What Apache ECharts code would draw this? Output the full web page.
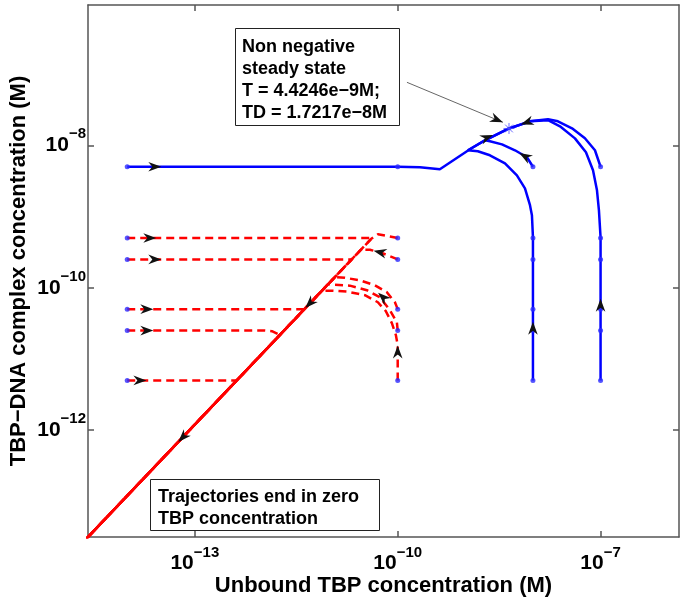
<!DOCTYPE html>
<html><head><meta charset="utf-8">
<script src="https://cdn.jsdelivr.net/npm/echarts@6/dist/echarts.min.js"></script>
<style>html,body{margin:0;padding:0;background:#fff}#c{width:685px;height:601px}</style>
</head><body><div id="c"></div>
<script>
// ---------- data (concentrations in M) ----------
const xTicks = [1e-13, 1e-10, 1e-7];
const yTicks = [1e-12, 1e-10, 1e-8];
const xRange = [2.63e-15, 1.445e-6];
const yRange = [3.16e-14, 9.33e-7];

const startT  = [1e-14, 1e-10, 1e-8, 1e-7];
const startTD = [5e-9, 5e-10, 2.5e-10, 5e-11, 2.5e-11, 5e-12];
const steadyState = [4.4246e-9, 1.7217e-8];

const blueMain = [[1e-14,5e-9],[1e-10,5e-9],[2.13e-10,4.9e-9],[4.2e-10,4.6e-9],[1.17e-9,8.8e-9],[1.95e-9,1.175e-8],[4.4246e-9,1.7217e-8]];
const blueMidLong = [[1e-8,5e-12],[1e-8,5.1e-10],[9.66e-9,1.04e-9],[9.04e-9,1.44e-9],[7.62e-9,2.49e-9],[5.79e-9,3.79e-9],[3.86e-9,5.58e-9],[2.31e-9,7.24e-9],[1.53e-9,8.24e-9],[1.09e-9,8.51e-9],[1.95e-9,1.175e-8],[4.4246e-9,1.7217e-8]];
const blueMidShort = [[1e-8,5e-9],[8.15e-9,6.79e-9],[5.42e-9,8.51e-9],[3.48e-9,1.03e-8],[2.31e-9,1.14e-8],[1.95e-9,1.175e-8]];
const blueRightShort = [[1e-7,5e-9],[8.26e-8,8.51e-9],[5.87e-8,1.253e-8],[3.78e-8,1.73e-8],[2.34e-8,2.17e-8],[1.67e-8,2.32e-8],[9.04e-9,2.17e-8],[4.4246e-9,1.7217e-8]];
const blueRightLong = [[1e-7,5e-12],[1e-7,5.1e-10],[9.46e-8,1.22e-9],[8.85e-8,2.33e-9],[7.73e-8,4.46e-9],[6.08e-8,7.98e-9],[4.18e-8,1.25e-8],[2.51e-8,1.85e-8],[1.67e-8,2.25e-8],[9.04e-9,2.17e-8],[4.4246e-9,1.7217e-8]];

const redL1 = [[1e-14,5e-10],[4.2e-11,5e-10],[1e-15,1.2e-14]];
const redL2 = [[1e-14,2.5e-10],[2.08e-11,2.5e-10],[1e-15,1.2e-14]];
const redL3 = [[1e-14,5e-11],[4.16e-12,5e-11],[1e-15,1.2e-14]];
const redL4 = [[1e-14,2.5e-11],[1.09e-12,2.5e-11],[1.38e-12,2.45e-11],[1.81e-12,2.17e-11],[1e-15,1.2e-14]];
const redL5 = [[1e-14,5e-12],[4.16e-13,5e-12],[1e-15,1.2e-14]];
const redR1 = [[1e-10,5e-10],[5.09e-11,5.64e-10],[4.02e-11,4.82e-10],[1e-15,1.2e-14]];
const redR2 = [[1e-10,2.5e-10],[7.67e-11,2.77e-10],[5.46e-11,3.15e-10],[3.88e-11,3.41e-10],[2.86e-11,3.43e-10],[1e-15,1.2e-14]];
const redR3 = [[1e-10,5e-11],[9.1e-11,6.25e-11],[6.92e-11,8.65e-11],[4.6e-11,1.08e-10],[2.76e-11,1.27e-10],[1.66e-11,1.38e-10],[1.18e-11,1.41e-10],[1e-15,1.2e-14]];
const redR4 = [[1e-10,2.5e-11],[9.72e-11,3.28e-11],[7.67e-11,4.83e-11],[5.46e-11,7.36e-11],[3.5e-11,9.23e-11],[1.96e-11,1.07e-10],[9.3e-12,1.12e-10],[1e-15,1.2e-14]];
const redR5 = [[1e-10,5e-12],[1e-10,1.56e-11],[9.4e-11,2.16e-11],[8.2e-11,3.18e-11],[6.68e-11,4.68e-11],[5.09e-11,6.25e-11],[3.27e-11,7.85e-11],[1.83e-11,8.79e-11],[1.1e-11,9.08e-11],[7.55e-12,9.06e-11],[1e-15,1.2e-14]];

const annotationLine = [[1.37e-10,7.66e-8],[3.6e-9,2.1e-8]];

// arrows: [position, a point further along the trajectory]
const arrows = [
  [[2.56e-14,5e-9],[1e-13,5e-9]],
  [[2.09e-9,1.29e-8],[4.4246e-9,1.7217e-8]],
  [[8.15e-9,2.1e-8],[4.4246e-9,1.7217e-8]],
  [[7.62e-9,7.01e-9],[5.42e-9,8.51e-9]],
  [[1e-7,5.68e-11],[1e-7,5e-10]],
  [[1e-8,2.7e-11],[1e-8,5e-10]],
  [[2.16e-14,5e-10],[1e-12,5e-10]],
  [[2.56e-14,2.5e-10],[1e-12,2.5e-10]],
  [[1.95e-14,5e-11],[1e-12,5e-11]],
  [[1.95e-14,2.5e-11],[1e-12,2.5e-11]],
  [[1.54e-14,5e-12],[1e-12,5e-12]],
  [[5.02e-12,6.03e-11],[1e-15,1.2e-14]],
  [[6.64e-14,7.97e-13],[1e-15,1.2e-14]],
  [[6.04e-11,7.36e-11],[3.88e-11,1.08e-10]],
  [[5.46e-11,3.15e-10],[3.88e-11,3.41e-10]],
  [[1e-10,1.25e-11],[1e-10,2.5e-11]],
  [[2.93e-9,2.28e-8],[3.6e-9,2.1e-8]]
];

const textSteady = ['Non negative', 'steady state', 'T = 4.4246e\u22129M;', 'TD = 1.7217e\u22128M'];
const textZero = ['Trajectories end in zero', 'TBP concentration'];
const xName = 'Unbound TBP concentration (M)';
const yName = 'TBP\u2212DNA complex concentration (M)';

// ---------- helpers ----------
const lg = v => Math.log10(v);
const toLog = p => [lg(p[0]), lg(p[1])];
const L = arr => arr.map(toLog);
const FONT = '"Liberation Sans", Arial, Helvetica, sans-serif';
const AX = '#555';

const tickLabel = {
  formatter: v => '{b|10}{s|\u2212' + Math.abs(Math.round(v)) + '}',
  rich: {
    b: {fontSize: 21, fontWeight: 'bold', fontFamily: FONT, color: '#000'},
    s: {fontSize: 15, fontWeight: 'bold', fontFamily: FONT, color: '#000', padding: [0, 0, 22, 0]}
  }
};

function makeAxis(dim, pos, ticks, range, withLabels, name, gap) {
  const tv = ticks.map(lg);
  const ax = {
    type: 'value', position: pos,
    min: lg(range[0]), max: lg(range[1]),
    splitLine: {show: false},
    axisLine: {show: true, onZero: false, lineStyle: {color: AX, width: 1.5}},
    axisTick: {show: true, inside: true, length: 6, customValues: tv, lineStyle: {color: AX, width: 1.5}},
    axisLabel: withLabels ? Object.assign({show: true, customValues: tv, margin: dim === 'x' ? 8 : 2, fontSize: 21}, tickLabel) : {show: false},
    nameMoveOverlap: false
  };
  if (name) {
    ax.name = name; ax.nameLocation = 'middle'; ax.nameGap = gap;
    ax.nameTextStyle = {fontSize: 22, fontWeight: 'bold', fontFamily: FONT, color: '#000'};
  }
  return ax;
}

const redStyle = {color: '#ff0000', width: 2.5, type: [8, 5]};
const blueStyle = {color: '#0000ff', width: 2.5};
function lineSeries(data, style, z) {
  return {type: 'line', data: L(data), showSymbol: false, symbol: 'none', lineStyle: style,
          silent: true, animation: false, z: z, clip: true, xAxisIndex: 0, yAxisIndex: 0};
}

const startPoints = [];
startT.forEach(t => startTD.forEach(d => startPoints.push([t, d])));

const starPath = 'path://M5,0L5,10M0,5L10,5M1.5,1.5L8.5,8.5M8.5,1.5L1.5,8.5';

// arrowhead drawn in pixel space from the axis mapping of two points of a trajectory
function renderArrow(params, api) {
  const p1 = api.coord([api.value(0), api.value(1)]);
  const p2 = api.coord([api.value(2), api.value(3)]);
  let dx = p2[0] - p1[0], dy = p2[1] - p1[1];
  const len = Math.hypot(dx, dy) || 1;
  dx /= len; dy /= len;
  const nx = -dy, ny = dx;
  const H = 6.5, W = 4.8, N = 2.5;
  const tip = [p1[0] + dx * H, p1[1] + dy * H];
  const bx = p1[0] - dx * H, by = p1[1] - dy * H;
  const notch = [p1[0] - dx * N, p1[1] - dy * N];
  return {
    type: 'polygon',
    shape: {points: [tip, [bx + nx * W, by + ny * W], notch, [bx - nx * W, by - ny * W]]},
    style: {fill: '#111', stroke: null}
  };
}

const series = [];
[redL1, redL2, redL3, redL4, redL5, redR1, redR2, redR3, redR4, redR5].forEach(d => series.push(lineSeries(d, redStyle, 2)));
[blueMain, blueMidLong, blueMidShort, blueRightShort, blueRightLong].forEach(d => series.push(lineSeries(d, blueStyle, 3)));
series.push(lineSeries(annotationLine, {color: '#666', width: 1}, 4));
series.push({type: 'scatter', data: L(startPoints), symbol: 'circle', symbolSize: 5,
  itemStyle: {color: '#2a2aff'}, silent: true, animation: false, z: 5});
series.push({type: 'scatter', data: [toLog(steadyState)], symbol: starPath, symbolSize: 11,
  itemStyle: {color: 'rgba(0,0,0,0)', borderColor: '#4a4aff', borderWidth: 1}, silent: true, animation: false, z: 6});
series.push({type: 'custom', renderItem: renderArrow,
  data: arrows.map(a => toLog(a[0]).concat(toLog(a[1]))),
  encode: {x: [0, 2], y: [1, 3]}, silent: true, animation: false, z: 10, clip: false});

const option = {
  animation: false,
  backgroundColor: '#fff',
  grid: {left: 88, right: 6, top: 5, bottom: 64, containLabel: false, outerBoundsMode: 'none'},
  xAxis: [
    makeAxis('x', 'bottom', xTicks, xRange, true, xName, 38),
    makeAxis('x', 'top', xTicks, xRange, false)
  ],
  yAxis: [
    makeAxis('y', 'left', yTicks, yRange, true, yName, 58),
    makeAxis('y', 'right', yTicks, yRange, false)
  ],
  series: series,
  graphic: [
    {type: 'rect', shape: {x: 235.5, y: 28.5, width: 164, height: 97}, style: {fill: '#fff', stroke: '#222', lineWidth: 1}, z: 100},
    {type: 'text', x: 242, y: 36, style: {text: textSteady.join('\n'), fontSize: 18, fontWeight: 'bold', fontFamily: FONT, lineHeight: 22, fill: '#000'}, z: 101},
    {type: 'rect', shape: {x: 150.5, y: 479.5, width: 229, height: 51}, style: {fill: '#fff', stroke: '#222', lineWidth: 1}, z: 100},
    {type: 'text', x: 158, y: 486, style: {text: textZero.join('\n'), fontSize: 18, fontWeight: 'bold', fontFamily: FONT, lineHeight: 22, fill: '#000'}, z: 101}
  ]
};

const chart = echarts.init(document.getElementById('c'), null, {renderer: 'canvas'});
chart.setOption(option);
</script>
</body></html>
